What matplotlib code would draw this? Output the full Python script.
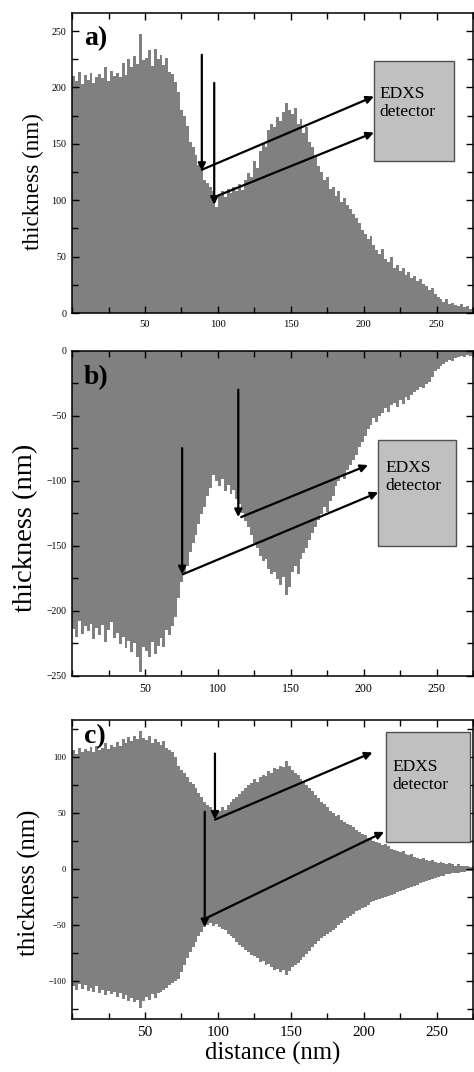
import matplotlib
matplotlib.use("Agg")
import matplotlib.pyplot as plt
from matplotlib.patches import Rectangle
from matplotlib.ticker import MultipleLocator
import numpy as np

plt.rcParams['font.family'] = ['Liberation Serif', 'DejaVu Serif']

# distance axis: one value every 2 nm, x = 1, 3, ..., 275
distance = np.arange(1, 276, 2)

thick_a = [210, 206, 214, 203, 211, 207, 213, 204, 209, 212,
           208, 218, 206, 215, 210, 213, 209, 222, 211, 225,
           218, 228, 221, 247, 224, 226, 233, 219, 234, 225,
           229, 220, 226, 214, 212, 205, 196, 180, 175, 166,
           152, 147, 140, 131, 128, 118, 115, 112, 108, 94,
           104, 108, 103, 110, 106, 112, 108, 114, 109, 118,
           124, 121, 135, 129, 144, 150, 147, 162, 168, 165,
           174, 170, 178, 186, 180, 176, 182, 168, 172, 160,
           165, 152, 147, 140, 130, 125, 118, 121, 110, 112,
           104, 108, 98, 102, 96, 92, 88, 84, 80, 74,
           70, 66, 68, 60, 56, 52, 57, 48, 45, 50,
           40, 43, 37, 40, 34, 36, 31, 33, 28, 30,
           26, 24, 20, 22, 17, 14, 12, 10, 12, 8,
           9, 7, 6, 8, 5, 6, 4, 5]

thick_b = [-214, -220, -208, -218, -212, -216, -210, -222, -213, -219,
           -211, -224, -215, -209, -221, -217, -226, -220, -229, -223,
           -232, -225, -236, -247, -228, -231, -236, -224, -233, -227,
           -221, -228, -215, -219, -212, -205, -190, -178, -172, -166,
           -155, -148, -142, -133, -126, -120, -112, -106, -96, -100,
           -104, -99, -108, -103, -110, -107, -114, -118, -125, -131,
           -136, -142, -148, -152, -158, -162, -160, -168, -172, -170,
           -176, -180, -174, -188, -182, -170, -166, -172, -160, -156,
           -152, -146, -140, -136, -130, -126, -120, -124, -116, -112,
           -104, -100, -96, -99, -92, -88, -84, -80, -74, -70,
           -66, -60, -57, -52, -55, -50, -48, -44, -47, -42,
           -40, -43, -38, -41, -36, -38, -34, -32, -30, -28,
           -29, -26, -24, -20, -16, -14, -12, -10, -9, -7,
           -8, -6, -5, -4, -5, -3, -4, -2]

upper_c = [106, 103, 108, 104, 107, 105, 109, 104, 110, 106,
           108, 112, 107, 111, 109, 113, 110, 116, 112, 118,
           114, 119, 116, 123, 117, 115, 119, 112, 116, 113,
           111, 114, 108, 106, 104, 100, 92, 88, 86, 82,
           78, 76, 72, 68, 64, 60, 57, 55, 52, 50,
           52, 55, 53, 57, 60, 62, 64, 67, 70, 72,
           75, 77, 80, 78, 82, 84, 83, 87, 86, 90,
           89, 92, 91, 96, 92, 88, 86, 84, 80, 78,
           75, 72, 70, 66, 63, 60, 58, 55, 52, 50,
           47, 48, 44, 42, 40, 39, 37, 35, 33, 31,
           30, 28, 27, 25, 24, 23, 21, 22, 20, 18,
           17, 16, 15, 16, 13, 12, 13, 11, 10, 9,
           10, 8, 7, 8, 6, 5, 6, 5, 4, 5,
           4, 3, 4, 3, 3, 3, 2, 3]

lower_c = [-105, -108, -103, -107, -104, -109, -106, -110, -105, -111,
           -108, -113, -109, -112, -110, -114, -111, -116, -113, -118,
           -115, -119, -117, -124, -118, -114, -117, -112, -115, -111,
           -110, -108, -106, -104, -102, -100, -98, -92, -86, -80,
           -74, -70, -65, -60, -56, -52, -50, -48, -51, -49,
           -52, -54, -55, -58, -60, -62, -65, -68, -70, -72,
           -74, -77, -78, -80, -83, -82, -86, -85, -88, -90,
           -89, -92, -90, -95, -91, -88, -86, -84, -81, -79,
           -76, -73, -70, -67, -64, -62, -60, -58, -56, -55,
           -53, -50, -48, -46, -44, -42, -40, -38, -37, -35,
           -34, -32, -30, -29, -28, -27, -26, -25, -24, -23,
           -22, -21, -20, -19, -18, -17, -16, -15, -14, -13,
           -12, -11, -10, -9, -8, -7, -6, -6, -5, -5,
           -4, -4, -4, -3, -3, -2, -2, -2]

# arrows: (start, end) in data coords
arrows_a = [((89, 229), (89, 126)), ((89, 127), (207, 192)),
            ((97.5, 204), (97.5, 96)), ((98, 103), (207, 160))]
arrows_b = [((75.5, -75), (75.5, -172)), ((76, -172), (210, -109)),
            ((114, -30), (114, -128)), ((116, -128), (203, -88))]
arrows_c = [((98, 103), (98, 44)), ((98, 44), (206, 104)),
            ((91, 51), (91, -52)), ((92, -44), (214, 33))]
# detector boxes: (x0, y0, width, height)
box_a = (207, 135, 55, 88)
box_b = (210, -150, 53.5, 81)
box_c = (215, 24, 58, 98)
text_pos = [(211, 201), (215, -84), (220, 98)]

bar_grey = '#808080'

fig = plt.figure(figsize=(4.74, 10.72), dpi=100)
ax_a = fig.add_axes([0.152, 0.708, 0.846, 0.2799])
ax_b = fig.add_axes([0.152, 0.3697, 0.846, 0.3032])
ax_c = fig.add_axes([0.152, 0.0495, 0.846, 0.2789])

ax_a.bar(distance, thick_a, width=2, color=bar_grey, linewidth=0)
ax_b.bar(distance, thick_b, width=2, color=bar_grey, linewidth=0)
ax_c.bar(distance, np.array(upper_c) - np.array(lower_c), bottom=lower_c,
         width=2, color=bar_grey, linewidth=0)

ax_a.set_ylim(0, 266)
ax_b.set_ylim(-250, 0)
ax_c.set_ylim(-134, 133)

setup = [
    (ax_a, 'a)', arrows_a, box_a, text_pos[0], 7.2, 7.6, 16.7, (-0.095, 0.437), 0.955),
    (ax_b, 'b)', arrows_b, box_b, text_pos[1], 7.0, 8.6, 20.5, (-0.115, 0.454), 0.955),
    (ax_c, 'c)', arrows_c, box_c, text_pos[2], 6.2, 11.0, 17.8, (-0.105, 0.455), 0.985),
]

for ax, lab, arrs, box, tp, yfs, xfs, lfs, lcoords, ly in setup:
    ax.set_xlim(0, 275)
    ax.xaxis.set_major_locator(MultipleLocator(50))
    ax.xaxis.set_minor_locator(MultipleLocator(25))
    ax.yaxis.set_major_locator(MultipleLocator(50))
    ax.yaxis.set_minor_locator(MultipleLocator(25))
    ax.tick_params(which='both', direction='in', top=True, right=True,
                   labelright=False, width=1)
    ax.tick_params(which='major', length=5)
    ax.tick_params(which='minor', length=4)
    ax.tick_params(axis='y', labelsize=yfs, pad=4)
    ax.tick_params(axis='x', labelsize=xfs, pad=5)
    ax.xaxis.set_ticks([50, 100, 150, 200, 250])
    for s in ax.spines.values():
        s.set_linewidth(1.1)

    ax.set_ylabel('thickness (nm)', fontsize=lfs, va='center')
    ax.yaxis.set_label_coords(*lcoords)

    ax.text(0.03, ly, lab, transform=ax.transAxes, fontsize=20,
            fontweight='bold', va='top', ha='left')

    for (x0, y0), (x1, y1) in arrs:
        ax.annotate('', xy=(x1, y1), xytext=(x0, y0),
                    arrowprops=dict(arrowstyle='-|>', color='black', lw=1.6,
                                    mutation_scale=11, shrinkA=0, shrinkB=0))

    ax.add_patch(Rectangle((box[0], box[1]), box[2], box[3],
                           facecolor='#c0c0c0', edgecolor='#505050', lw=1,
                           zorder=3))
    ax.text(tp[0], tp[1], 'EDXS\ndetector', fontsize=12.5, va='top', ha='left',
            linespacing=1.15, zorder=4)

ax_c.set_xlabel('distance (nm)', fontsize=17.8, labelpad=2)

fig.savefig('out.png', dpi=100)
